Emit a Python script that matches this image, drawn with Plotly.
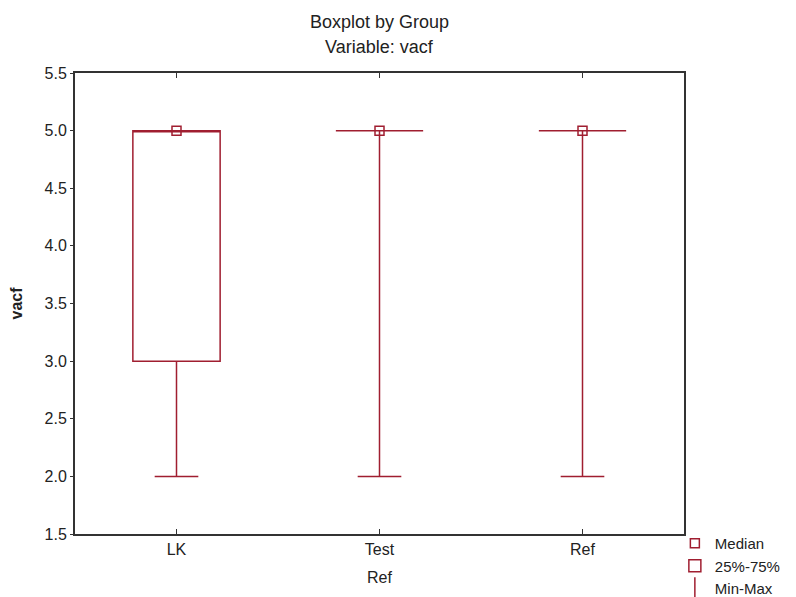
import plotly.graph_objects as go

categories = ["LK", "Test", "Ref"]
minimum = [2.0, 2.0, 2.0]
q1 = [3.0, 5.0, 5.0]
median = [5.0, 5.0, 5.0]
q3 = [5.0, 5.0, 5.0]
maximum = [5.0, 5.0, 5.0]

RED = "#A01E30"
AXIS = "#333333"
FONT = "Liberation Sans, Arial, sans-serif"

fig = go.Figure()

fig.add_trace(go.Box(
    x=categories, q1=q1, median=median, q3=q3,
    lowerfence=minimum, upperfence=maximum,
    width=0.43, whiskerwidth=0.5,
    line=dict(color=RED, width=1.5), fillcolor="rgba(255,255,255,0)",
    name="25%-75%", boxpoints=False, hoverinfo="skip", legendrank=2,
))

fig.add_trace(go.Scatter(
    x=categories, y=median, mode="markers", name="Median",
    marker=dict(symbol="square-open", size=9, color=RED, line=dict(width=1.5)),
    legendrank=1,
))

fig.add_trace(go.Scatter(
    x=[None], y=[None], mode="markers", name="Min-Max",
    marker=dict(symbol="line-ns-open", size=16, color=RED, line=dict(width=1.5, color=RED)),
    legendrank=3,
))

fig.update_layout(
    width=788, height=589,
    margin=dict(l=67, r=112, t=65, b=63, autoexpand=False),
    paper_bgcolor="white", plot_bgcolor="white",
    font=dict(family=FONT, size=16, color="#222222"),
    showlegend=True,
    legend=dict(x=0.985, y=0.015, xanchor="left", yanchor="top",
                font=dict(size=15, color="#222222"), tracegroupgap=0,
                itemwidth=30, bgcolor="rgba(0,0,0,0)"),
    xaxis=dict(
        type="category", range=[-0.5, 2.5],
        showline=True, linecolor=AXIS, linewidth=2, mirror="ticks",
        ticks="inside", ticklen=5, tickcolor=AXIS, tickwidth=1,
        showgrid=False, zeroline=False,
        tickfont=dict(size=16),
        title=dict(text="Ref", font=dict(size=16), standoff=15),
    ),
    yaxis=dict(
        range=[1.5, 5.5], dtick=0.5, tickformat=".1f",
        showline=True, linecolor=AXIS, linewidth=2, mirror=True,
        ticks="outside", ticklen=3, tickcolor=AXIS, tickwidth=1,
        showgrid=False, zeroline=False,
        tickfont=dict(size=16),
        title=dict(text="<b>vacf</b>", font=dict(size=16), standoff=18),
    ),
    annotations=[
        dict(text="Boxplot by Group", xref="paper", yref="paper", x=0.5, y=1,
             yshift=63, showarrow=False, font=dict(size=18, color="#222222")),
        dict(text="Variable: vacf", xref="paper", yref="paper", x=0.5, y=1,
             yshift=38, showarrow=False, font=dict(size=18, color="#222222")),
    ],
)

fig.write_html("out.html")
